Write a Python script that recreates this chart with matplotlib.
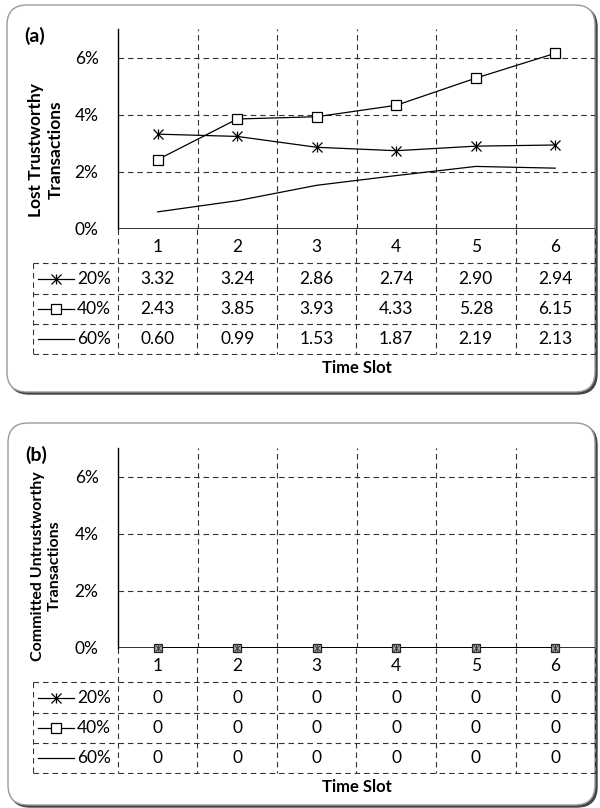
import numpy as np
import matplotlib.pyplot as plt
from matplotlib.patches import FancyBboxPatch

plt.rcParams["font.family"] = ["Lato", "DejaVu Sans"]

slots = [1, 2, 3, 4, 5, 6]
series = ["20%", "40%", "60%"]

lost_20 = [3.32, 3.24, 2.86, 2.74, 2.90, 2.94]
lost_40 = [2.43, 3.85, 3.93, 4.33, 5.28, 6.15]
lost_60 = [0.60, 0.99, 1.53, 1.87, 2.19, 2.13]

comm_20 = [0, 0, 0, 0, 0, 0]
comm_40 = [0, 0, 0, 0, 0, 0]
comm_60 = [0, 0, 0, 0, 0, 0]

yticks = [0, 2, 4, 6]

W, H = 600, 808
fig = plt.figure(figsize=(W / 100, H / 100), dpi=100)


def rect(x0, y0, x1, y1):
    return [x0 / W, 1 - y1 / H, (x1 - x0) / W, (y1 - y0) / H]


# background layer in pixel coordinates
bg = fig.add_axes([0, 0, 1, 1], zorder=0)
bg.set_xlim(0, W)
bg.set_ylim(H, 0)
bg.axis("off")

GRID = dict(color="#333333", lw=0.8, ls=(0, (5, 3.5)))
LEFT, RIGHT, TLEFT = 118, 595, 33
COLW = (RIGHT - LEFT) / 6
FS = 12.5


def draw_line(ax, x, vals, k, small=False):
    if small:
        # overlapping markers on the zero line: square underneath, asterisk on top
        if k == 0:
            ax.plot(x, vals, color="#444444", lw=0, marker="x", ms=5, mew=0.8, zorder=4, clip_on=False)
            ax.plot(x, vals, color="#444444", lw=0, marker="|", ms=5.5, mew=0.8, zorder=4, clip_on=False)
        elif k == 1:
            ax.plot(x, vals, color="#222222", lw=0, marker="s", ms=5.5, mfc="#b0b0b0", mew=0.9, zorder=3, clip_on=False)
        else:
            ax.plot(x, vals, color="black", lw=1.4, zorder=2)
        return
    if k == 0:
        ax.plot(x, vals, color="black", lw=0.9, marker="x", ms=6.5, mew=0.9, zorder=3)
        ax.plot(x, vals, color="black", lw=0, marker="|", ms=7.5, mew=0.9, zorder=3)
    elif k == 1:
        ax.plot(x, vals, color="black", lw=0.9, marker="s", ms=7, mfc="white", mew=0.9, zorder=3)
    else:
        ax.plot(x, vals, color="black", lw=0.9, zorder=3)


def panel(top, box, letter, ylabel, data, fmt, small=False, label_fs=12.5, label_dy=21):
    zero = top + 200
    tick_row = zero + 34
    rows = [tick_row, tick_row + 31, tick_row + 61, tick_row + 91]

    # rounded frame with shadow
    x0, y0, x1, y1 = box
    bg.add_patch(FancyBboxPatch((x0 + 2, y0 + 2), x1 - x0, y1 - y0,
                                boxstyle="round,pad=0,rounding_size=20",
                                fc="#444444", ec="#444444", lw=1))
    bg.add_patch(FancyBboxPatch((x0, y0), x1 - x0, y1 - y0,
                                boxstyle="round,pad=0,rounding_size=20",
                                fc="white", ec="#9a9a9a", lw=1))
    bg.text(x0 + 17, top + 7, letter, fontsize=14, fontweight="bold", va="center", ha="left")
    bg.text(46, (top + zero) / 2 + label_dy, ylabel, fontsize=label_fs, fontweight="bold",
            rotation=90, ha="center", va="center", linespacing=1.25)
    bg.text((LEFT + RIGHT) / 2, rows[-1] + 14, "Time Slot", fontsize=12,
            fontweight="bold", ha="center", va="center")

    # chart area
    ax = fig.add_axes(rect(LEFT, top, RIGHT, zero), zorder=2)
    ax.patch.set_alpha(0)
    ax.set_xlim(0.5, 6.5)
    ax.set_ylim(0, 7)
    for s in ["top", "right", "bottom"]:
        ax.spines[s].set_visible(False)
    ax.spines["left"].set_linewidth(1.0)
    ax.set_xticks([])
    ax.set_yticks(yticks)
    ax.set_yticklabels([f"{t}%" for t in yticks], fontsize=FS)
    ax.tick_params(axis="y", length=0, pad=14)
    for t in yticks[1:]:
        ax.axhline(t, **GRID, zorder=1)
    for b in np.arange(1.5, 7, 1):
        ax.axvline(b, **GRID, zorder=1)
    ax.axhline(0, color="#222222", lw=1.3, zorder=2)
    order = [1, 0, 2] if small else [0, 1, 2]
    for k in order:
        draw_line(ax, slots, data[k], k, small)

    # data table below the chart
    tx = fig.add_axes(rect(TLEFT, zero, RIGHT + 1, rows[-1] + 1), zorder=1)
    tx.set_xlim(0.5 - (LEFT - TLEFT) / COLW, 6.5 + 1 / COLW)
    tx.set_ylim(rows[-1] + 1, zero)
    tx.axis("off")
    for b in np.arange(0.5, 7, 1):
        tx.plot([b, b], [zero, rows[-1]], **GRID)
    xl = 0.5 - (LEFT - TLEFT) / COLW
    for r in rows:
        tx.plot([xl, 6.5], [r, r], **GRID)
    tx.plot([xl, xl], [rows[0], rows[-1]], **GRID)
    for i in slots:
        tx.text(i, (zero + tick_row) / 2 + 1, str(i), fontsize=FS, ha="center", va="center")
    sx0 = 0.5 - (LEFT - 38) / COLW
    sx1 = 0.5 - (LEFT - 74) / COLW
    for k, (name, vals) in enumerate(zip(series, data)):
        yc = (rows[k] + rows[k + 1]) / 2
        tx.plot([sx0, sx1], [yc, yc], color="black", lw=0.9)
        if k < 2:
            draw_line(tx, [(sx0 + sx1) / 2], [yc], k)
        tx.text(0.5 - 7 / COLW, yc, name, fontsize=FS, ha="right", va="center")
        for i, v in zip(slots, vals):
            tx.text(i, yc, fmt.format(v), fontsize=FS, ha="center", va="center")
    return ax


panel(29, (7, 5, 595, 392), "(a)", "Lost Trustworthy\nTransactions",
      [lost_20, lost_40, lost_60], "{:.2f}")
panel(448, (8, 423, 595, 805), "(b)", "Committed Untrustworthy\nTransactions",
      [comm_20, comm_40, comm_60], "{:.0f}", small=True, label_fs=11.5, label_dy=18)

fig.savefig("out.png", dpi=100)
